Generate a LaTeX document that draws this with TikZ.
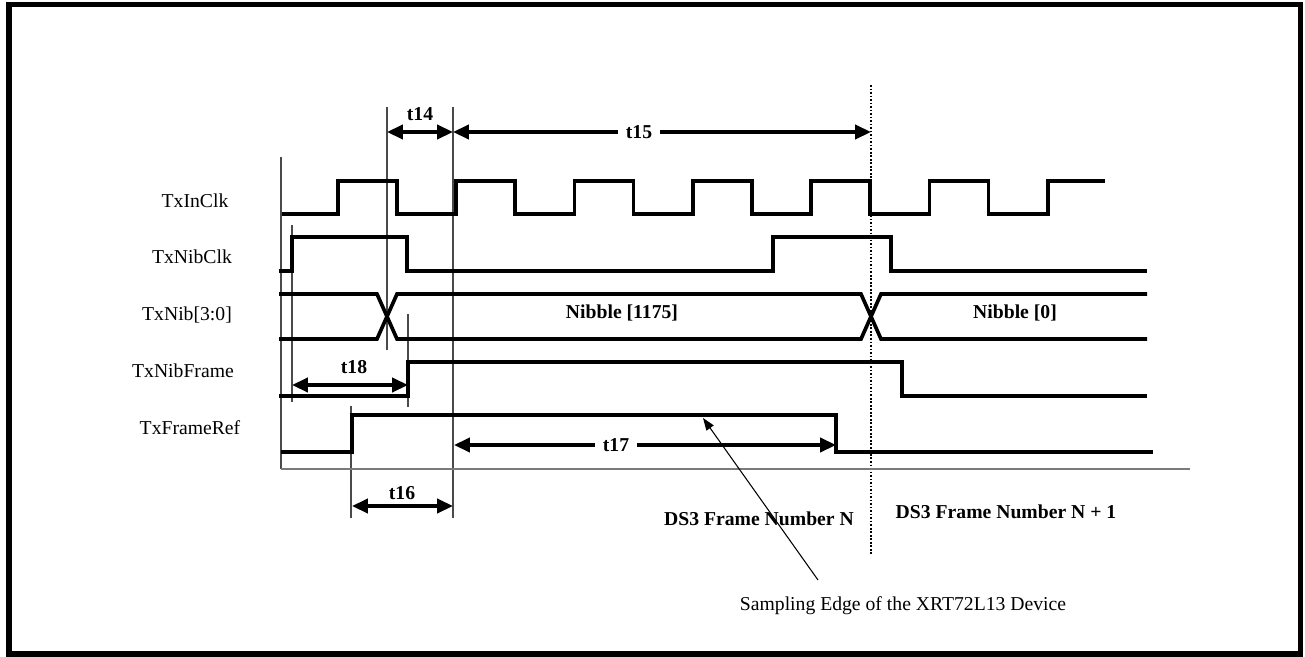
\documentclass[tikz,border=0pt]{standalone}
\usepackage{fontspec}
\setmainfont{Liberation Serif}
\usetikzlibrary{arrows.meta}
\definecolor{ink}{HTML}{000000}
\definecolor{rule}{HTML}{4A4A4A}
\definecolor{axis}{HTML}{7A7A7A}
\tikzset{
  wave/.style={ink,line width=2.1pt},
  guide/.style={rule,line width=0.75pt},
  span/.style={ink,line width=1.9pt,{Triangle[length=9pt,width=8pt]}-{Triangle[length=9pt,width=8pt]}},
  signame/.style={anchor=base,inner sep=0pt,font=\fontsize{11.2}{13}\selectfont},
  tname/.style={anchor=base,inner sep=0pt,font=\fontsize{11.2}{13}\selectfont\bfseries},
}

\begin{document}
\begin{tikzpicture}[x=0.02cm,y=-0.02cm]
  \useasboundingbox (0,0) rectangle (1305,656);
  \draw[ink,line width=2.9pt] (9,4.5) rectangle (1300.5,654);

  \node[signame] (inclk) at (195,207) {TxInClk};
  \node[signame] (nibclk) at (192,263) {TxNibClk};
  \node[signame] (nib) at (187,320) {TxNib[3:0]};
  \node[signame] (nibframe) at (183,377) {TxNibFrame};
  \node[signame] (frameref) at (190,434) {TxFrameRef};

  \draw[guide] (281,157) -- (281,469);
  \draw[guide] (292,225) -- (292,402);
  \draw[guide] (387,107) -- (387,350);
  \draw[guide] (453,107) -- (453,518);
  \draw[guide] (408,314) -- (408,407);
  \draw[guide] (351,406) -- (351,518);
  \draw[ink,line width=0.9pt,dash pattern=on 1pt off 1pt] (871,85) -- (871,555);
  \draw[axis,line width=1.2pt] (281,469) -- (1190,469);

  \draw[wave] (282,214) foreach \k in {0,...,5} { -| ({338+118.3*\k},181) -| ({397+118.3*\k},214) } -| (1048,181) -- (1105,181);
  \draw[wave] (279,271) -| (292,237) -| (407,271) -| (773,237) -| (891,271) -- (1147,271);
  \draw[wave] (279,294) -- (377,294) -- (397,339) -- (861,339) -- (881,294) -- (1147,294);
  \draw[wave] (279,339) -- (377,339) -- (397,294) -- (861,294) -- (881,339) -- (1147,339);
  \draw[wave] (279,396) -| (408,362) -| (902,396) -- (1147,396);
  \draw[wave] (281,452) -| (352,415) -| (836,452) -- (1153,452);

  \node[tname] (nib1175) at (622,318) {Nibble [1175]};
  \node[tname] (nib0) at (1015,318) {Nibble [0]};
  \node[tname] (frameN) at (759,525) {DS3 Frame Number N};
  \node[tname] (frameN1) at (1006,518) {DS3 Frame Number N + 1};
  \node[signame] (sampling) at (903,610) {Sampling Edge of the XRT72L13 Device};

  \coordinate (a14) at (387,132);
  \coordinate (b14) at (453,132);
  \coordinate (b15) at (871,132);
  \coordinate (a18) at (292,385);
  \coordinate (b18) at (408,385);
  \coordinate (a16) at (352,506);
  \coordinate (b16) at (453,506);
  \coordinate (a17) at (454,445);
  \coordinate (b17) at (836,445);
  \coordinate (foot) at (818,580);
  \coordinate (edge) at (703,418);

  \draw[span] (a14) -- (b14);
  \draw[span] (b14) -- (b15);
  \draw[span] (a18) -- (b18);
  \draw[span] (a16) -- (b16);
  \draw[span] (a17) -- (b17);
  \draw[ink,line width=0.6pt,-{Triangle[length=7pt,width=5pt]}] (foot) -- (edge);

  \node[tname] (t14) at (420,120) {t14};
  \node[tname,fill=white,inner xsep=4.5pt] (t15) at (639,138) {t15};
  \node[tname] (t18) at (354,373) {t18};
  \node[tname] (t16) at (402,499) {t16};
  \node[tname,fill=white,inner xsep=4.5pt] (t17) at (616,451) {t17};
\end{tikzpicture}
\end{document}
